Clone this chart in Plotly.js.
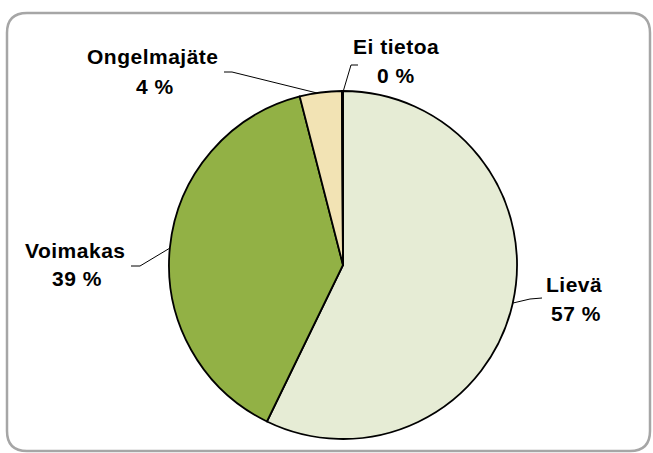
<!DOCTYPE html>
<html>
<head>
<meta charset="utf-8">
<script src="https://cdn.plot.ly/plotly-3.0.1.min.js"></script>
<style>html,body{margin:0;padding:0;background:#fff;}#chart{width:653px;height:453px;}</style>
</head>
<body>
<div id="chart"></div>
<script>
const categories = ["Lievä", "Voimakas", "Ongelmajäte", "Ei tietoa"];
const values = [57.2, 38.8, 3.9, 0.1];
const colors = ["#E6ECD5", "#92B145", "#F2E3B4", "#DCE6F2"];

const W = 653, H = 453;
const px = x => x / W;
const py = y => 1 - y / H;
const total = values.reduce((a, b) => a + b, 0);
const pct = values.map(v => Math.round(v / total * 100) + " %");

// label placement (pixels): [nameX, nameY, pctX, pctY]
const labelPos = [
  [574, 284, 576, 313],
  [75, 250, 77, 278],
  [153, 57, 155, 87],
  [396, 47, 396, 76]
];
// leader lines (pixel polylines)
const leaders = [
  [[513, 303], [530, 299], [542, 298]],
  [[170, 248], [140, 266], [131, 266]],
  [[317, 93], [232, 72], [224, 72]],
  [[343, 92], [351, 65], [358, 65]]
];

const annotations = [];
categories.forEach((c, i) => {
  const p = labelPos[i];
  const font = {family: "Liberation Sans, Arial, sans-serif", size: 21, color: "#000000", weight: "bold"};
  const wrap = t => '<span style="letter-spacing:0.5px"><b>' + t + '</b></span>';
  annotations.push({xref: "paper", yref: "paper", x: px(p[0]), y: py(p[1]), text: wrap(c), showarrow: false, font: font, xanchor: "center", yanchor: "middle"});
  annotations.push({xref: "paper", yref: "paper", x: px(p[2]), y: py(p[3]), text: wrap(pct[i]), showarrow: false, font: font, xanchor: "center", yanchor: "middle"});
});

const shapes = leaders.map(pts => ({
  type: "path", xref: "paper", yref: "paper",
  path: pts.map((q, k) => (k ? "L" : "M") + px(q[0]) + "," + py(q[1])).join(" "),
  line: {color: "#000000", width: 1}
}));

// rounded frame
(function () {
  const x0 = 7, x1 = 650, y0 = 13, y1 = 451, r = 20;
  const d = [
    "M", px(x0 + r), py(y0),
    "L", px(x1 - r), py(y0),
    "Q", px(x1), py(y0), px(x1), py(y0 + r),
    "L", px(x1), py(y1 - r),
    "Q", px(x1), py(y1), px(x1 - r), py(y1),
    "L", px(x0 + r), py(y1),
    "Q", px(x0), py(y1), px(x0), py(y1 - r),
    "L", px(x0), py(y0 + r),
    "Q", px(x0), py(y0), px(x0 + r), py(y0), "Z"
  ];
  let s = "";
  for (let i = 0; i < d.length; i++) {
    const t = d[i];
    if (typeof t === "string") s += t + " ";
    else { s += t + (typeof d[i + 1] === "number" ? "," : " "); }
  }
  shapes.push({type: "path", xref: "paper", yref: "paper", path: s, line: {color: "#A6A6A6", width: 2.5}});
})();

const trace = {
  type: "pie",
  labels: categories,
  values: values,
  sort: false,
  direction: "clockwise",
  rotation: 0,
  textinfo: "none",
  hoverinfo: "label+percent",
  marker: {colors: colors, line: {color: "#000000", width: 1.8}},
  domain: {x: [px(169), px(517)], y: [py(439), py(91)]},
  showlegend: false
};

Plotly.newPlot("chart", [trace], {
  width: W, height: H,
  margin: {l: 0, r: 0, t: 0, b: 0},
  paper_bgcolor: "#ffffff",
  showlegend: false,
  annotations: annotations,
  shapes: shapes
}, {staticPlot: true, displayModeBar: false});
</script>
</body>
</html>
